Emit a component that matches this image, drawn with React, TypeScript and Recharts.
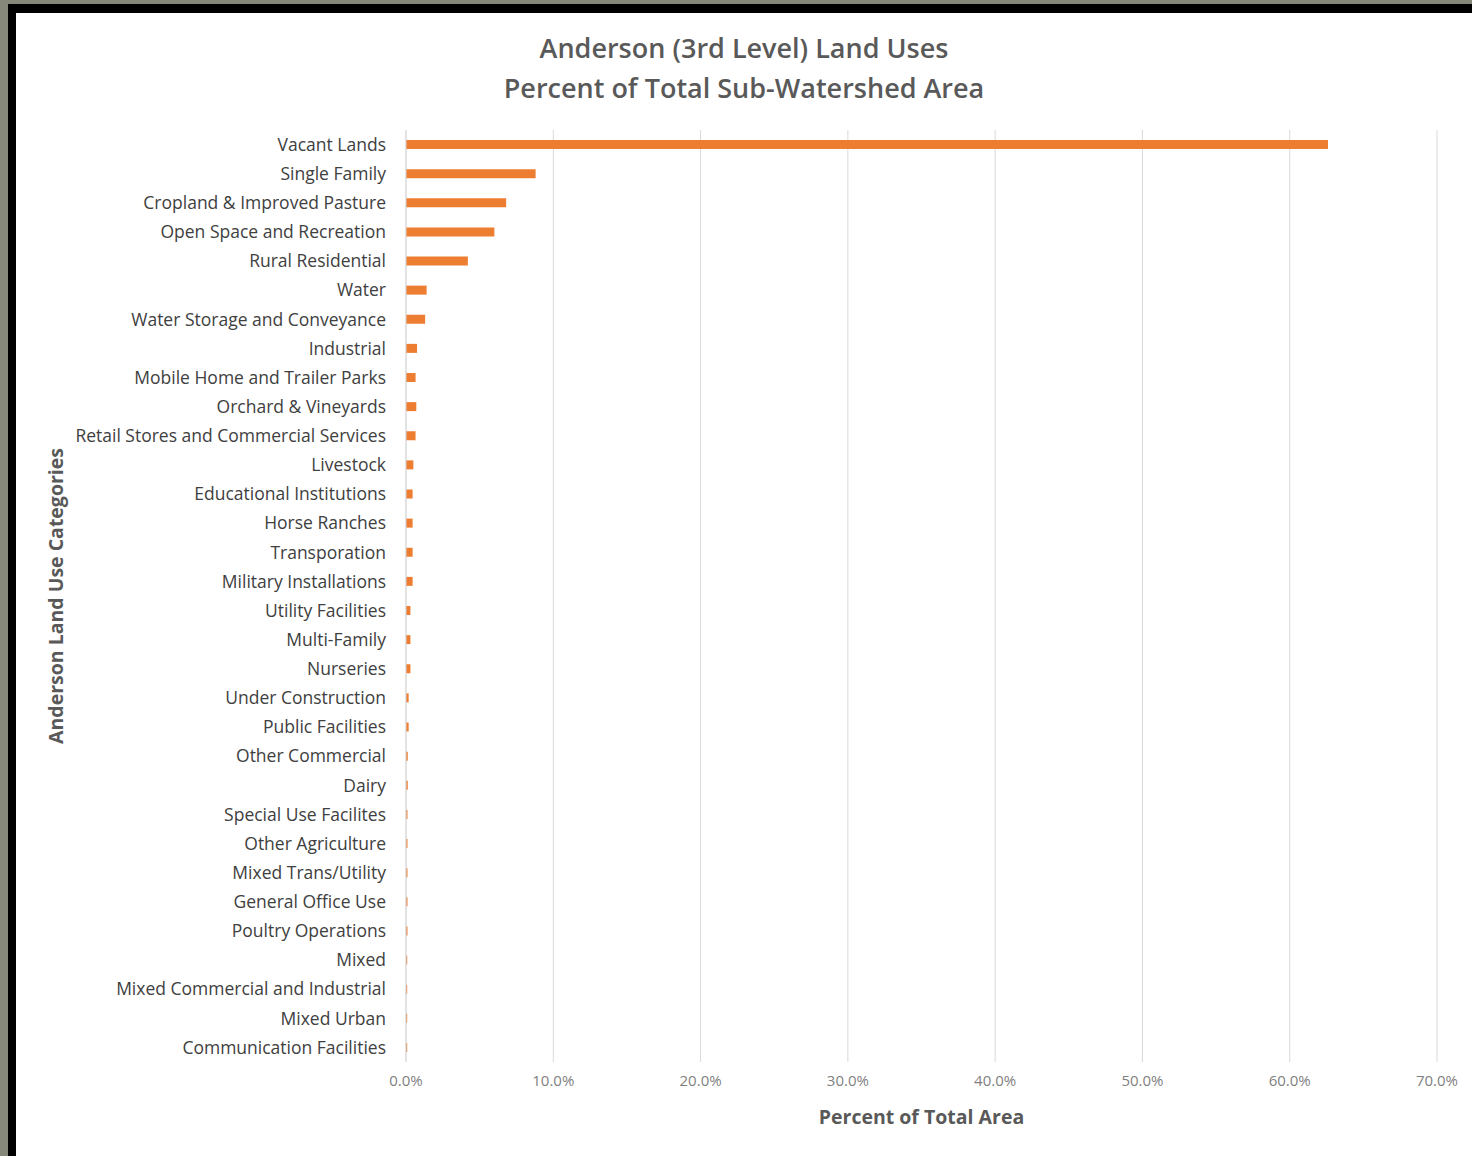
import { Bar, BarChart, CartesianGrid, XAxis, YAxis } from "recharts"

const categories = [
  "Vacant Lands",
  "Single Family",
  "Cropland & Improved Pasture",
  "Open Space and Recreation",
  "Rural Residential",
  "Water",
  "Water Storage and Conveyance",
  "Industrial",
  "Mobile Home and Trailer Parks",
  "Orchard & Vineyards",
  "Retail Stores and Commercial Services",
  "Livestock",
  "Educational Institutions",
  "Horse Ranches",
  "Transporation",
  "Military Installations",
  "Utility Facilities",
  "Multi-Family",
  "Nurseries",
  "Under Construction",
  "Public Facilities",
  "Other Commercial",
  "Dairy",
  "Special Use Facilites",
  "Other Agriculture",
  "Mixed Trans/Utility",
  "General Office Use",
  "Poultry Operations",
  "Mixed",
  "Mixed Commercial and Industrial",
  "Mixed Urban",
  "Communication Facilities",
]

// percent of total sub-watershed area
const percents = [
  62.6, 8.8, 6.8, 6.0, 4.2, 1.4, 1.3, 0.75, 0.65, 0.7, 0.65, 0.5, 0.45, 0.45,
  0.45, 0.45, 0.3, 0.3, 0.3, 0.18, 0.18, 0.12, 0.12, 0.1, 0.1, 0.1, 0.1, 0.1,
  0.08, 0.08, 0.08, 0.08,
]

const xTicks = [0, 10, 20, 30, 40, 50, 60, 70]

const data = categories.map((name, i) => ({ name, value: percents[i] }))

const font = "'Open Sans', 'Noto Sans', sans-serif"

export default function App() {
  return (
    <div style={{ position: "absolute", left: 0, top: 0, width: 1472, height: 1156, background: "#868979", overflow: "hidden" }}>
      <div style={{ position: "absolute", left: 8, top: 4, width: 1464, height: 1152, background: "#000" }} />
      <div style={{ position: "absolute", left: 16, top: 13, width: 1456, height: 1143, background: "#fff", fontFamily: font }}>
        <div style={{ position: "absolute", left: 0, top: 15, width: 1456, textAlign: "center", color: "#595959", fontSize: 27, fontWeight: 600, lineHeight: "40px" }}>
          Anderson (3rd Level) Land Uses
          <br />
          Percent of Total Sub-Watershed Area
        </div>
        <div style={{ position: "absolute", left: 390, width: 1031, top: 1090, textAlign: "center", color: "#595959", fontSize: 19.5, fontWeight: 700 }}>
          Percent of Total Area
        </div>
        <div style={{ position: "absolute", left: 39, top: 583, width: 0, height: 0 }}>
          <div style={{ position: "absolute", transform: "translate(-50%, -50%) rotate(-90deg)", whiteSpace: "nowrap", color: "#595959", fontSize: 19.5, fontWeight: 700 }}>
            Anderson Land Use Categories
          </div>
        </div>
        <div style={{ position: "absolute", left: 0, top: 0 }}>
          <BarChart
            layout="vertical"
            width={1456}
            height={1143}
            data={data}
            margin={{ top: 117, right: 35, bottom: 0, left: 0 }}
          >
            <CartesianGrid horizontal={false} stroke="#d9d9d9" />
            <XAxis
              type="number"
              domain={[0, 70]}
              ticks={xTicks}
              tickFormatter={(v: number) => `${v.toFixed(1)}%`}
              axisLine={false}
              tickLine={false}
              tickSize={0}
              tickMargin={13}
              tick={{ fill: "#7f7f7f", fontSize: 15, fontFamily: font }}
              height={94}
            />
            <YAxis
              type="category"
              dataKey="name"
              width={390}
              interval={0}
              axisLine={{ stroke: "#d9d9d9" }}
              tickLine={false}
              tickSize={0}
              tickMargin={20}
              tick={{ fill: "#404040", fontSize: 17.5, fontFamily: font }}
            />
            <Bar dataKey="value" fill="#ed7d31" barSize={9} isAnimationActive={false} />
          </BarChart>
        </div>
      </div>
    </div>
  )
}
